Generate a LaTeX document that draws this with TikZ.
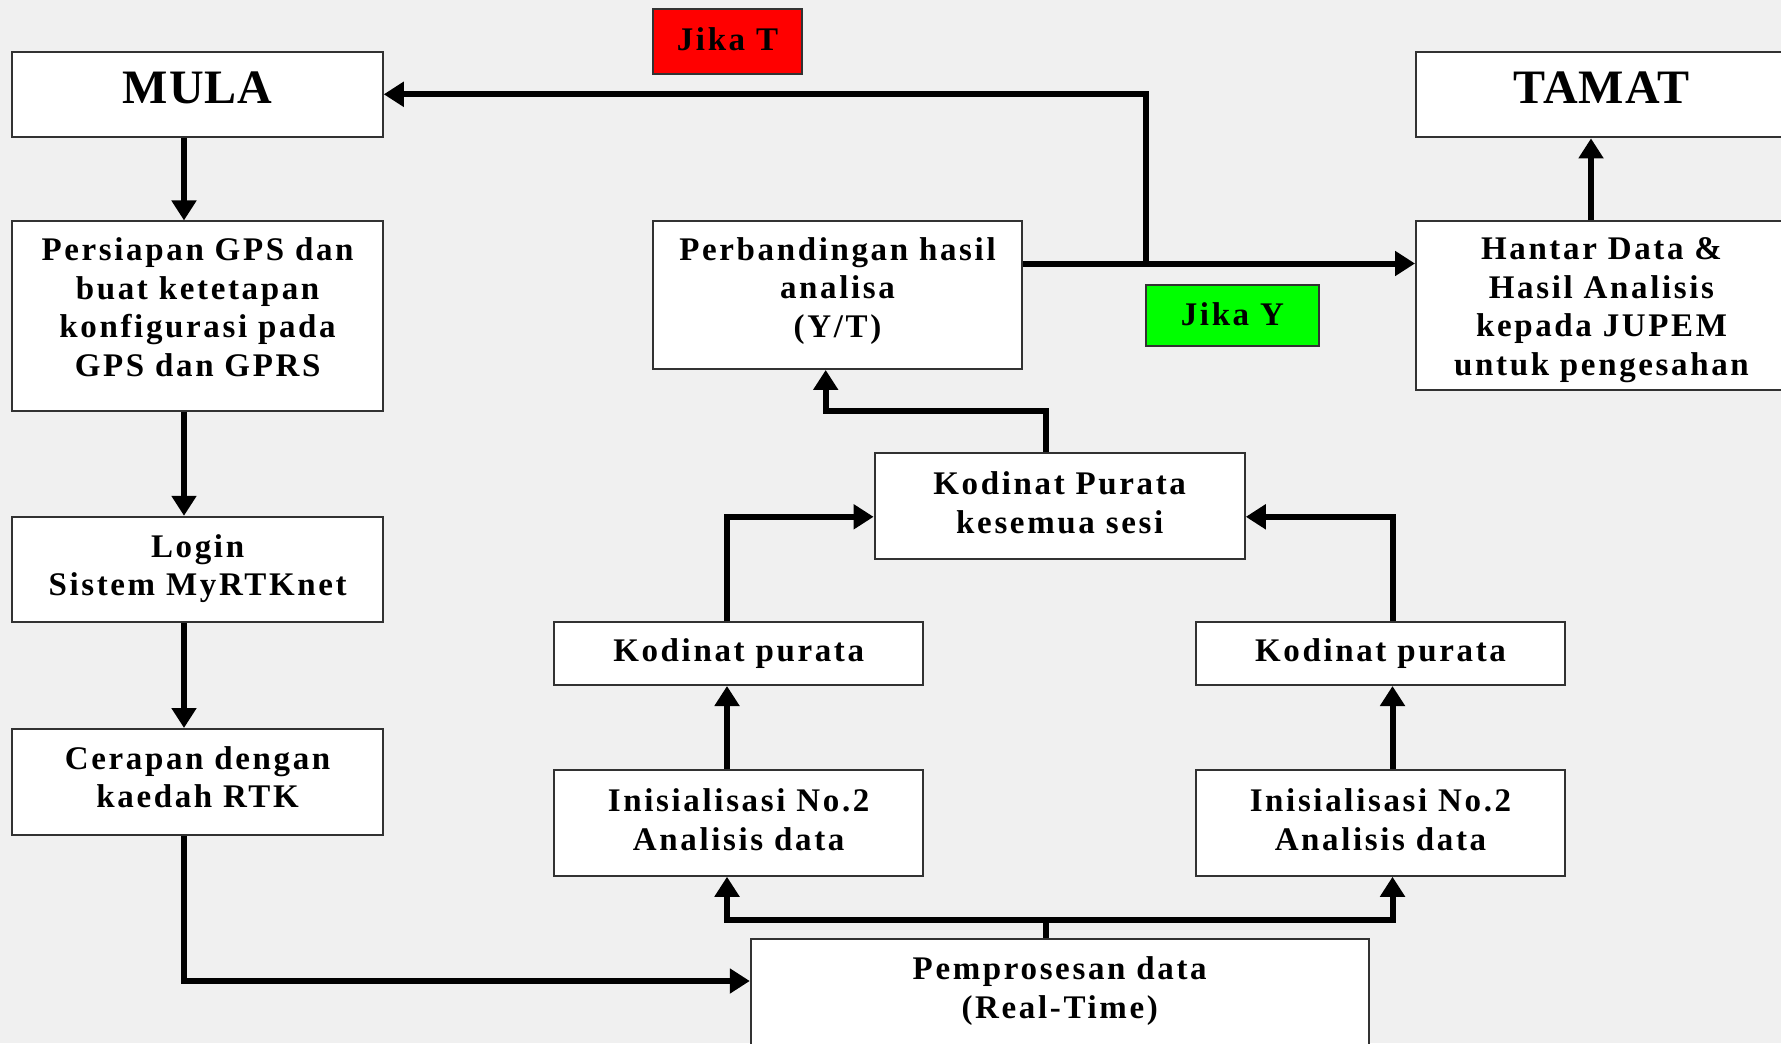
\documentclass[tikz,border=0pt]{standalone}
\usepackage{fontspec}
\setmainfont{Liberation Serif}[LetterSpace=8]
\usetikzlibrary{arrows.meta}
\definecolor{bgcol}{RGB}{240,240,240}
\definecolor{edgecol}{RGB}{50,50,50}
\definecolor{yesgreen}{RGB}{0,255,0}
\tikzset{
  box/.style={draw=edgecol, line width=1pt, fill=white, inner sep=0pt},
  txt/.style={align=center, inner sep=0pt,
    font=\fontsize{16.5pt}{19.3pt}\selectfont\bfseries},
  bigtxt/.style={inner sep=0pt,
    font=\fontsize{24pt}{28pt}\selectfont\bfseries\addfontfeature{LetterSpace=2}},
  conn/.style={line width=3pt, line join=miter, -{Triangle[length=10pt,width=12pt]}},
  plain/.style={line width=3pt, line join=miter},
}
\begin{document}
\begin{tikzpicture}[x=0.5pt, y=-0.5pt]
  % canvas
  \fill[bgcol] (0,0) rectangle (1781,1043);
  \useasboundingbox (0,0) rectangle (1781,1043);
  \begin{scope}
  \clip (0,0) rectangle (1781,1043);

  % left column
  \node[box, minimum width=185.15pt, minimum height=42.6pt] (mula) at (197.6,94.8) {};
  \node[bigtxt] (mula-t) at (197.6,87.8) {MULA};
  \node[box, minimum width=185.15pt, minimum height=94.75pt] (persiapan) at (197.6,316.2) {};
  \node[txt] (persiapan-t) at (197.6,307.2)
    {Persiapan GPS dan\\buat ketetapan\\konfigurasi pada\\GPS dan GPRS};
  \node[box, minimum width=185.15pt, minimum height=52.8pt] (login) at (197.6,569.6) {};
  \node[txt] (login-t) at (197.6,568.6) {Login\\Sistem MyRTKnet};
  \node[box, minimum width=185.15pt, minimum height=52.9pt] (cerapan) at (197.6,781.9) {};
  \node[txt] (cerapan-t) at (197.6,777.4) {Cerapan dengan\\kaedah RTK};

  % decision and end
  \node[box, minimum width=184.5pt, minimum height=73.75pt] (banding) at (837.5,295.2) {};
  \node[txt] (banding-t) at (837.5,290.7) {Perbandingan hasil\\analisa\\(Y/T)};
  \node[box, minimum width=185.5pt, minimum height=84pt] (hantar) at (1601.5,305.5) {};
  \node[txt] (hantar-t) at (1601.5,310)
    {Hantar Data \&\\Hasil Analisis\\kepada JUPEM\\untuk pengesahan};
  \node[box, minimum width=185.5pt, minimum height=42.6pt] (tamat) at (1601.5,94.8) {};
  \node[bigtxt] (tamat-t) at (1601.5,87.8) {TAMAT};
  \node[box, fill=red, minimum width=74.5pt, minimum height=32.4pt] (jikat) at (727.5,41.4) {};
  \node[txt] (jikat-t) at (727.5,39.4) {Jika T};
  \node[box, fill=yesgreen, minimum width=86.35pt, minimum height=30.7pt] (jikay) at (1232.4,315.7) {};
  \node[txt] (jikay-t) at (1232.4,314.7) {Jika Y};

  % processing branches
  \node[box, minimum width=185.1pt, minimum height=52.9pt] (purata) at (1059.7,505.9) {};
  \node[txt] (purata-t) at (1059.7,502.9) {Kodinat Purata\\kesemua sesi};
  \node[box, minimum width=184.7pt, minimum height=31.3pt] (kodl) at (738.7,653.7) {};
  \node[txt] (kodl-t) at (738.7,653.7) {Kodinat purata};
  \node[box, minimum width=184.7pt, minimum height=31.3pt] (kodr) at (1380.5,653.7) {};
  \node[txt] (kodr-t) at (1380.5,653.7) {Kodinat purata};
  \node[box, minimum width=184.7pt, minimum height=52.85pt] (inisl) at (738.7,822.9) {};
  \node[txt] (inisl-t) at (738.7,819.5) {Inisialisasi No.2\\Analisis data};
  \node[box, minimum width=184.7pt, minimum height=52.85pt] (inisr) at (1380.5,822.9) {};
  \node[txt] (inisr-t) at (1380.5,819.5) {Inisialisasi No.2\\Analisis data};
  \node[box, minimum width=308.9pt, minimum height=53.7pt] (proses) at (1059.7,993) {};
  \node[txt] (proses-t) at (1059.7,991) {Pemprosesan data\\(Real-Time)};

  % routing points
  \coordinate (lc) at (184,0);
  \coordinate (procin) at (0,981);
  \coordinate (split) at (1046,920);
  \coordinate (lb) at (727,0);
  \coordinate (rb) at (1392.5,0);
  \coordinate (join) at (0,516.8);
  \coordinate (up) at (825.7,411);
  \coordinate (decy) at (0,263.5);
  \coordinate (loop) at (1146,94.3);
  \coordinate (endx) at (1591,0);

  % connectors
  \draw[conn] (mula.south -| lc) -- (persiapan.north -| lc);
  \draw[conn] (persiapan.south -| lc) -- (login.north -| lc);
  \draw[conn] (login.south -| lc) -- (cerapan.north -| lc);
  \draw[conn] (cerapan.south -| lc) |- (proses.west |- procin);
  \draw[plain] (proses.north -| split) -- (split);
  \draw[conn] (split) -| (inisl.south -| lb);
  \draw[conn] (split) -| (inisr.south -| rb);
  \draw[conn] (inisl.north -| lb) -- (kodl.south -| lb);
  \draw[conn] (inisr.north -| rb) -- (kodr.south -| rb);
  \draw[conn] (kodl.north -| lb) |- (purata.west |- join);
  \draw[conn] (kodr.north -| rb) |- (purata.east |- join);
  \draw[conn] (purata.north -| split) |- (up) -- (banding.south -| up);
  \draw[conn] (banding.east |- decy) -- (hantar.west |- decy);
  \draw[conn] (loop |- decy) -- (loop) -- (mula.east |- loop);
  \draw[conn] (hantar.north -| endx) -- (tamat.south -| endx);
  \end{scope}
\end{tikzpicture}
\end{document}
